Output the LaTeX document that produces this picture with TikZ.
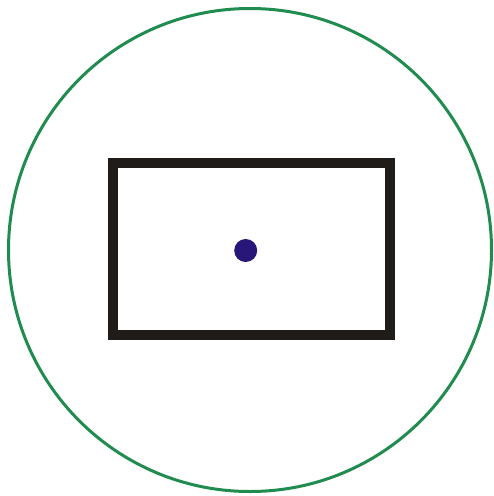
\documentclass[tikz,border=0pt]{standalone}
\definecolor{ringgreen}{RGB}{32,140,80}
\definecolor{boxblack}{RGB}{32,28,26}
\definecolor{dotblue}{RGB}{40,22,120}
\begin{document}
\begin{tikzpicture}[x=1pt,y=-1pt,
  ring/.style={draw=ringgreen,line width=3pt},
  frame/.style={draw=boxblack,line width=10pt},
  centerdot/.style={fill=dotblue}]
\useasboundingbox[fill=white] (0,0) rectangle (494,496);
\draw[ring] (250,250) circle[radius=241.5];
\draw[frame] (113,162.5) rectangle (390,335);
\fill[centerdot] (245.7,250.5) circle[radius=11.5];
\end{tikzpicture}
\end{document}
